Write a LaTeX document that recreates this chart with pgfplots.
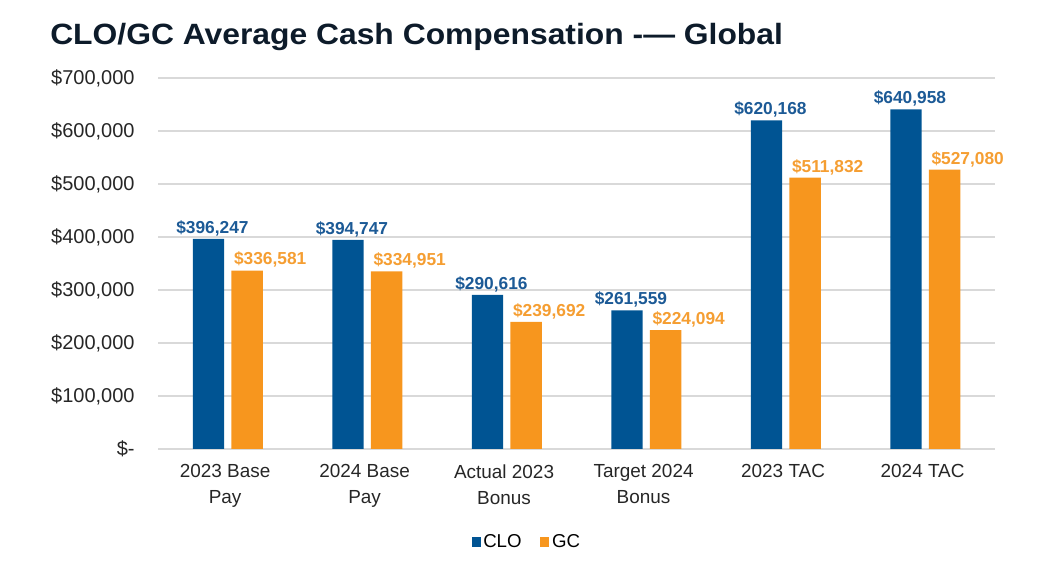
\documentclass[border=0pt]{standalone}
\usepackage{pgfplots}
\pgfplotsset{compat=1.18}
\usepackage{fontspec}
\setmainfont{Liberation Sans}
\definecolor{cloblue}{RGB}{0,84,147}
\definecolor{gcorange}{RGB}{247,150,30}
\definecolor{clolab}{RGB}{28,90,150}
\definecolor{gclab}{RGB}{245,158,50}
\definecolor{titlecol}{RGB}{13,27,42}
\definecolor{gridcol}{RGB}{217,217,217}
\begin{document}
\begin{tikzpicture}
\path[use as bounding box] (0,0) rectangle (787.5pt,429.75pt);
\node[anchor=base west, font=\fontsize{22pt}{26pt}\selectfont\bfseries, text=titlecol, inner sep=0pt] at (37.5pt,396pt) {\scalebox{1.085}[1]{CLO/GC Average Cash Compensation -— Global}};
\begin{axis}[
  at={(118.5pt,93pt)}, anchor=south west,
  scale only axis, width=627.75pt, height=278.25pt,
  ybar=5.5pt, bar width=23.5pt,
  xmin=-0.5, xmax=5.5, ymin=0, ymax=700000,
  scaled y ticks=false,
  axis line style={draw=none},
  major tick length=0pt,
  ymajorgrids, grid style={gridcol, line width=0.9pt},
  xtick={0,1,2,3,4,5},
  xticklabels={{2023 Base\\Pay},{2024 Base\\Pay},{Actual 2023\\Bonus},{Target 2024\\Bonus},{2023 TAC},{2024 TAC}},
  xticklabel style={align=center, font=\fontsize{14.2pt}{19.5pt}\selectfont, text=black!85, anchor=north, yshift=-8pt, xshift=-2pt},
  ytick={0,100000,200000,300000,400000,500000,600000,700000},
  yticklabels={{\$-\hspace{8pt}},{\$100,000},{\$200,000},{\$300,000},{\$400,000},{\$500,000},{\$600,000},{\$700,000}},
  yticklabel style={font=\fontsize{15pt}{18pt}\selectfont, text=black!85, anchor=east, xshift=-14pt},
  point meta=explicit symbolic,
  nodes near coords,
  legend style={at={(0.441,-0.2507)}, anchor=center, draw=none, legend columns=2, font=\fontsize{14pt}{16pt}\selectfont, /tikz/every even column/.append style={column sep=12pt}},
  legend image code/.code={\fill[#1] (0pt,-3.4pt) rectangle (6.8pt,3.4pt);},
]
\addplot[fill=cloblue, draw=none, nodes near coords style={text=clolab, font=\fontsize{13pt}{15pt}\selectfont\bfseries, anchor=south, inner sep=2pt, xshift=3pt}] coordinates {
  (0,396247) [\$396,247]
  (1,394747) [\$394,747]
  (2,290616) [\$290,616]
  (3,261559) [\$261,559]
  (4,620168) [\$620,168]
  (5,640958) [\$640,958]
};
\addplot[fill=gcorange, draw=none, nodes near coords style={text=gclab, font=\fontsize{13pt}{15pt}\selectfont\bfseries, anchor=south west, inner sep=2pt, xshift=-12pt}] coordinates {
  (0,336581) [\$336,581]
  (1,334951) [\$334,951]
  (2,239692) [\$239,692]
  (3,224094) [\$224,094]
  (4,511832) [\$511,832]
  (5,527080) [\$527,080]
};
\legend{CLO,GC}
\end{axis}
\end{tikzpicture}
\end{document}
